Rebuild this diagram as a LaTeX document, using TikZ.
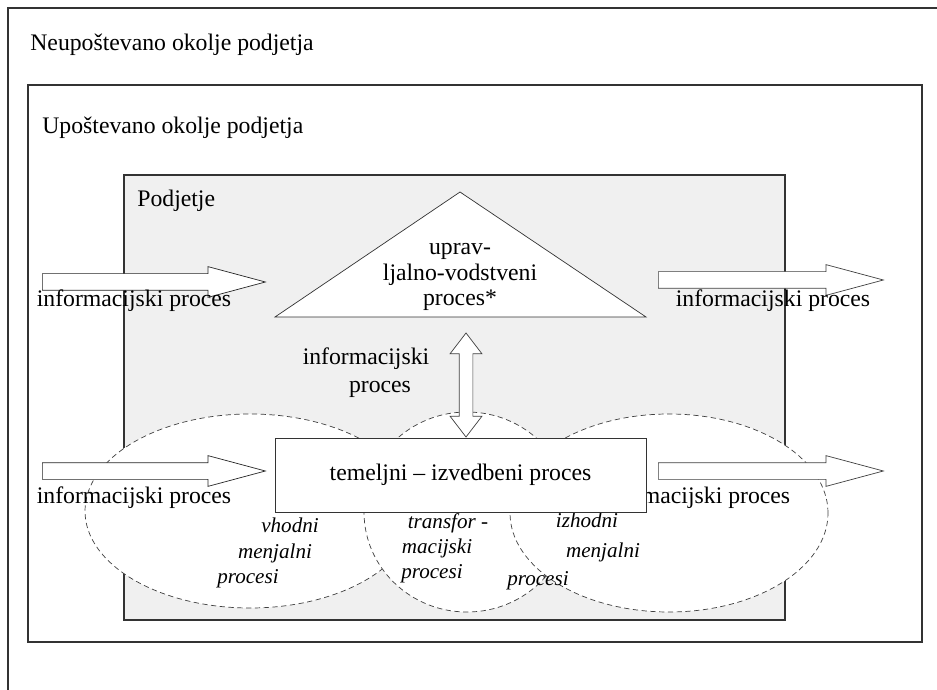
\documentclass[tikz,border=0pt]{standalone}
\usepackage{fontspec}
\setmainfont{Liberation Serif}
\usetikzlibrary{shapes.geometric,shapes.arrows}

\definecolor{firmgray}{HTML}{F0F0F0}
\tikzset{
  frame/.style={draw=black!80, line width=0.6pt},
  procell/.style={ellipse, draw=black!75, dash pattern=on 3pt off 2pt, fill=white, inner sep=0pt},
  blockarrow/.style={single arrow, draw=black!75, fill=white, inner xsep=0pt, inner ysep=1.6mm, anchor=tail,
    minimum height=44.6mm, single arrow head extend=1.4mm, single arrow tip angle=30},
  lbl/.style={inner sep=0pt, anchor=base},
  ilbl/.style={inner sep=0pt, anchor=base, font=\fontsize{12}{14}\selectfont\itshape}
}

\begin{document}
\begin{tikzpicture}[x=0.2mm, y=-0.2mm, font=\fontsize{13.5}{16}\selectfont]
\useasboundingbox (0,0) rectangle (937,690);

% okolje
\draw[frame] (8,700) -- (8,8) -- (945,8);
\node[lbl, anchor=base west] (neup) at (30,51) {Neupoštevano okolje podjetja};
\draw[frame, fill=white] (28,85) rectangle (922,642);
\node[lbl, anchor=base west] (up) at (42,134) {Upoštevano okolje podjetja};

% podjetje
\draw[frame, fill=firmgray] (124,175) rectangle (785,620);
\node[lbl, anchor=base west] (firm) at (137,207) {Podjetje};

% vodstvo
\draw[draw=black!80, fill=white] (275,317) -- (460,192) -- (646,317) -- cycle;
\node[lbl, align=center, font=\fontsize{13.5}{14.6}\selectfont] (lead) at (460,306) {uprav-\\ljalno-vodstveni\\proces*};

% menjalni procesi
\node[procell, minimum width=66mm, minimum height=38.8mm] (inEll) at (250,511) {};
\node[procell, minimum width=41.2mm, minimum height=40mm] (trEll) at (467,512) {};
\node[procell, minimum width=63.6mm, minimum height=39.6mm] (outEll) at (669,513) {};

% zgoraj
\node[blockarrow, draw=black!85] (inTop) at (42,282) {};
\node[lbl] (inTopL) at (134,307) {informacijski proces};
\node[blockarrow, minimum height=45mm] (outTop) at (658,280) {};
\node[lbl] (outTopL) at (773,307) {informacijski proces};

% spodaj
\node[blockarrow, draw=black!85] (inBot) at (42,471) {};
\node[lbl] (inBotL) at (134,503) {informacijski proces};
\node[blockarrow, minimum height=45mm] (outBot) at (658,471) {};
\node[lbl] (outBotL) at (693,503) {informacijski proces};

\node[ilbl] (in1) at (290,532) {vhodni};
\node[ilbl] (in2) at (275,558) {menjalni};
\node[ilbl] (in3) at (248,583) {procesi};
\node[ilbl] (tr1) at (448,528) {transfor -};
\node[ilbl] (tr2) at (437,553) {macijski};
\node[ilbl] (tr3) at (432,578) {procesi};
\node[ilbl] (out1) at (587,527) {izhodni};
\node[ilbl] (out2) at (603,557) {menjalni};
\node[ilbl] (out3) at (538,585) {procesi};

% vmes
\node[double arrow, draw=black!75, fill=white, inner xsep=0pt, inner ysep=1.3mm, rotate=90,
  minimum height=20.8mm, double arrow head extend=1.8mm,
  double arrow tip angle=75] (midArrow) at (466,385) {};
\node[lbl] (midL1) at (366,365) {informacijski};
\node[lbl] (midL2) at (380,392) {proces};

% temeljni proces
\node[draw=black!80, fill=white, minimum width=74.2mm, minimum height=14.8mm] (core) at (460.5,475) {temeljni -- izvedbeni proces};

\end{tikzpicture}
\end{document}
